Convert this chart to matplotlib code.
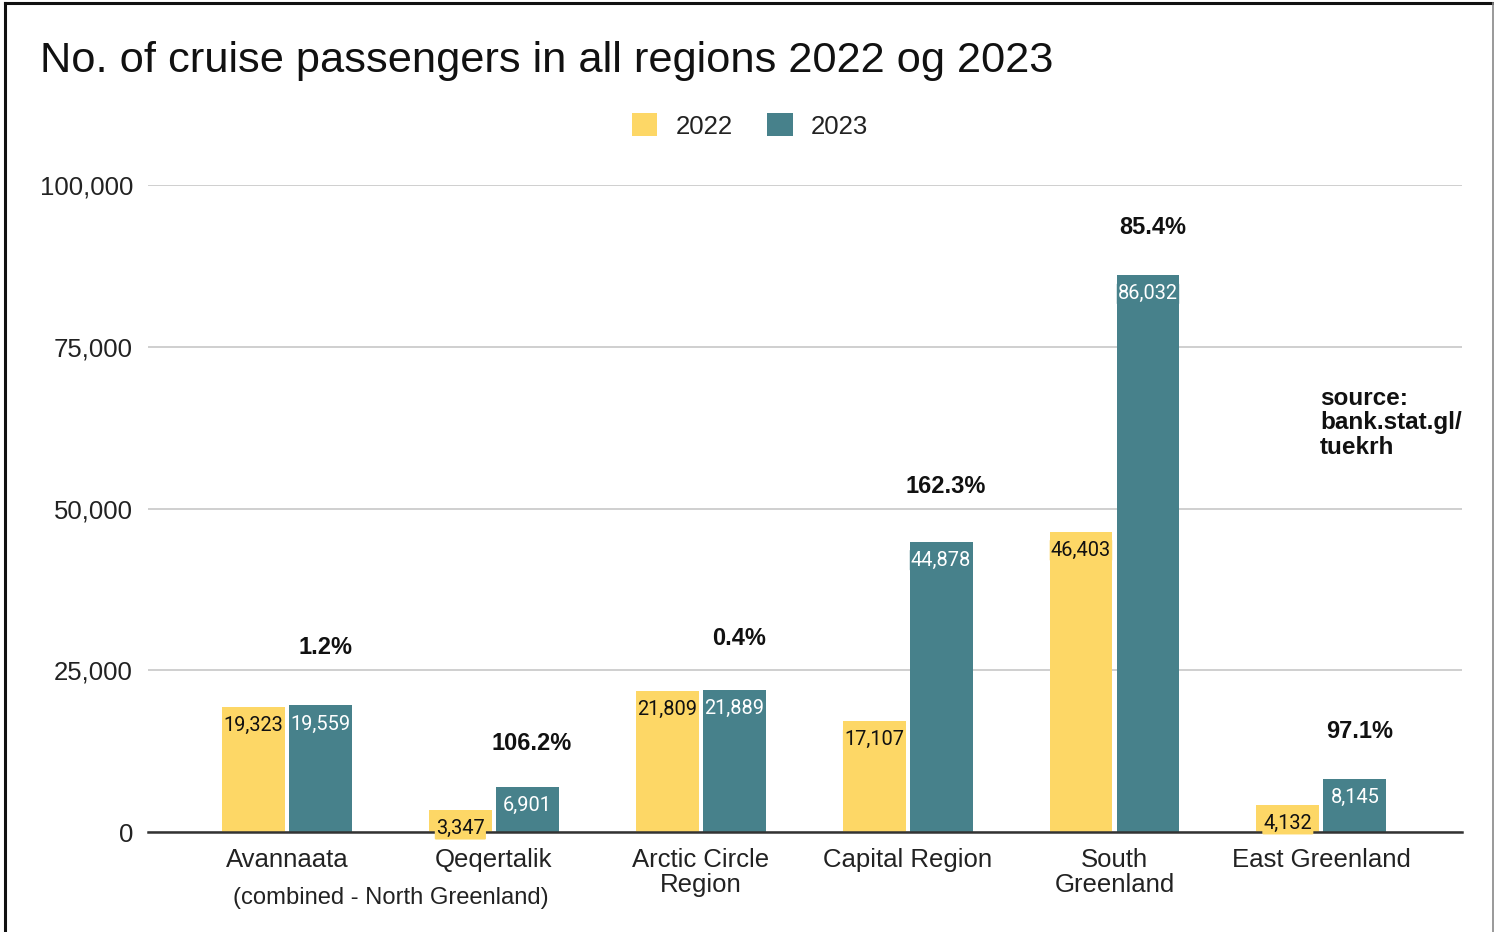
import matplotlib
matplotlib.use("Agg")
import matplotlib.pyplot as plt
from matplotlib.patches import Patch
import numpy as np

# Data
regions = ["Avannaata", "Qeqertalik", "Arctic Circle\nRegion", "Capital Region",
           "South\nGreenland", "East Greenland"]
passengers_2022 = [19323, 3347, 21809, 17107, 46403, 4132]
passengers_2023 = [19559, 6901, 21889, 44878, 86032, 8145]
change_labels = ["1.2%", "106.2%", "0.4%", "162.3%", "85.4%", "97.1%"]
years = ["2022", "2023"]
y_ticks = [0, 25000, 50000, 75000, 100000]

COL_2022 = "#FDD766"
COL_2023 = "#47818B"
TEXT = "#222222"

W, H = 1494, 932
fig = plt.figure(figsize=(W / 100, H / 100), dpi=100)
fig.patch.set_facecolor("white")

def px(x0, y0, x1, y1):
    return [x0 / W, 1 - y1 / H, (x1 - x0) / W, (y1 - y0) / H]

ax = fig.add_axes(px(148, 185, 1462, 832))
ax.set_xlim(-0.672, 5.68)
ax.set_ylim(0, 100000)

x = np.arange(len(regions))
bw = 0.304
off = 0.162
b1 = ax.bar(x - off, passengers_2022, bw, color=COL_2022, zorder=3)
b2 = ax.bar(x + off, passengers_2023, bw, color=COL_2023, zorder=3)

# Value labels just inside the top of each bar
for bars, vals, tc, bc in [(b1, passengers_2022, "#111111", COL_2022),
                           (b2, passengers_2023, "white", COL_2023)]:
    for r, v in zip(bars, vals):
        ax.annotate(f"{v:,}", (r.get_x() + r.get_width() / 2, v),
                    xytext=(0, -18.5), textcoords="offset pixels",
                    ha="center", va="center", fontsize=14.4, family="Roboto",
                    color=tc, zorder=5, clip_on=False,
                    bbox=dict(boxstyle="round,pad=0.06", fc=bc, ec="none"))

# Percentage change above each pair
pct_offsets = [58, 44, 52, 55, 48, 48]
for xi, v, lab, o in zip(x, passengers_2023, change_labels, pct_offsets):
    ax.annotate(lab, (xi + off + 0.022, v), xytext=(0, o),
                textcoords="offset pixels", ha="center", va="center",
                fontsize=17, fontweight="bold", family="Liberation Sans",
                color="#111111", clip_on=False)

# Grid and axes styling
ax.set_yticks(y_ticks)
ax.set_yticklabels([f"{t:,}" for t in y_ticks], family="Liberation Sans",
                   fontsize=18.5, color=TEXT)
ax.tick_params(axis="y", length=0, pad=10.8)
ax.grid(axis="y", color="#cccccc", linewidth=1.3, zorder=0)
ax.set_axisbelow(True)
for s in ["top", "right", "left"]:
    ax.spines[s].set_visible(False)
ax.spines["bottom"].set_color("#333333")
ax.spines["bottom"].set_linewidth(1.8)
ax.spines["bottom"].set_zorder(4)

ax.set_xticks(x)
ax.set_xticklabels(regions, family="Liberation Sans", fontsize=18.5,
                   color=TEXT, linespacing=1.08)
ax.tick_params(axis="x", length=0, pad=11.5)

# Shared caption under the first two regions
ax.annotate("(combined - North Greenland)", (0.5, 0), xytext=(0, -66),
            textcoords="offset pixels", ha="center", va="center",
            fontsize=17.1, family="Liberation Sans", color=TEXT,
            annotation_clip=False)

# Title
fig.text(40 / W, 1 - 61 / H, "No. of cruise passengers in all regions 2022 og 2023",
         ha="left", va="center", fontsize=31.2, family="Liberation Sans",
         color="#111111")

# Source note
fig.text(1320 / W, 1 - 423 / H, "source:\nbank.stat.gl/\ntuekrh",
         ha="left", va="center", fontsize=17.5, fontweight="bold",
         family="Liberation Sans", color="#111111", linespacing=1.1)

# Legend
handles = [Patch(facecolor=COL_2022, edgecolor="none"),
           Patch(facecolor=COL_2023, edgecolor="none")]
leg = fig.legend(handles, years, loc="center", bbox_to_anchor=(750 / W, 1 - 126 / H),
                 ncol=2, frameon=False, handlelength=1.0, handleheight=1.0,
                 handletextpad=0.7, columnspacing=1.35,
                 prop={"family": "Liberation Sans", "size": 18.5})
for t in leg.get_texts():
    t.set_color(TEXT)

# Outer frame
fig.add_artist(plt.Line2D([4.5 / W, 4.5 / W], [0, 1 - 3 / H],
                          transform=fig.transFigure, color="#111111", lw=2.2))
fig.add_artist(plt.Line2D([4.5 / W, 1493 / W], [1 - 3 / H, 1 - 3 / H],
                          transform=fig.transFigure, color="#111111", lw=2.2))
fig.add_artist(plt.Line2D([1492.5 / W, 1492.5 / W], [0, 1 - 3 / H],
                          transform=fig.transFigure, color="#888888", lw=1.2))

fig.savefig("out.png", dpi=100)
